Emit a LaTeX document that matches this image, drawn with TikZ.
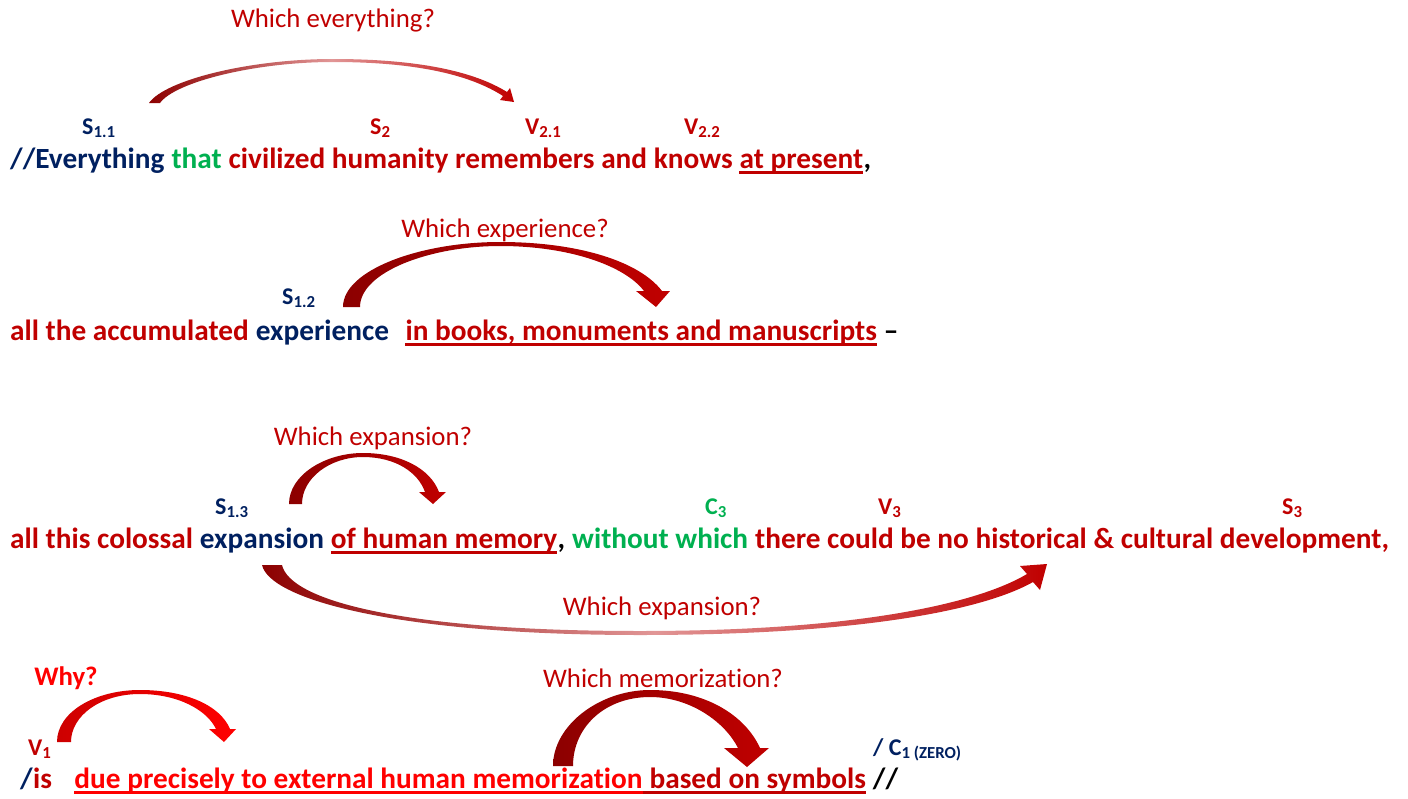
\documentclass[tikz,border=0pt]{standalone}
\usepackage{fontspec}
\setmainfont{Carlito}[Ligatures=NoCommon]
\usetikzlibrary{positioning}
\definecolor{synnavy}{RGB}{0,32,96}
\definecolor{synred}{RGB}{192,0,0}
\definecolor{syngreen}{RGB}{0,176,80}
\definecolor{synbright}{RGB}{255,0,0}
\definecolor{synmaroon}{RGB}{140,0,0}
\definecolor{synpale}{RGB}{225,150,150}
\definecolor{synwhy}{RGB}{205,0,0}

\begin{document}
\begin{tikzpicture}[
      x=1pt, y=1pt,
      node distance=6.6pt,
      bow/.style={left color=synmaroon, right color=synred},
      fadebow/.style={bow, middle color=synpale},
      txt/.style={inner sep=0pt, font=\fontsize{29.3}{34}\selectfont\bfseries},
      tag/.style={inner sep=0pt, anchor=base west, font=\fontsize{24}{28}\selectfont\bfseries},
      ask/.style={inner sep=0pt, synred, font=\fontsize{26.8}{31}\selectfont},
      ul/.style={line width=2.6pt}
    ]
    \useasboundingbox (0,0) rectangle (1408,-798);

    % Sentence 1
    \node (everything) [txt, synnavy, anchor=base west] at (10,-168) {//Everything};
    \node (that)       [txt, syngreen, base right=of everything] {that};
    \node (civilized)  [txt, synred, base right=of that]         {civilized humanity remembers and knows};
    \node (present)    [txt, synred, base right=of civilized]    {at present};
    \node (comma1)     [txt, base right=0pt of present]          {,};
    \draw[ul, synred] ([yshift=-4.5pt]present.base west) -- ([yshift=-4.5pt]present.base east);

    \node (s11) [tag, synnavy] at (82,-134)  {S\textsubscript{1.1}};
    \node (s2)  [tag, synred]  at (370,-134) {S\textsubscript{2}};
    \node (v21) [tag, synred]  at (525,-134) {V\textsubscript{2.1}};
    \node (v22) [tag, synred]  at (684,-134) {V\textsubscript{2.2}};

    \node (q1) [ask] at (333,-20) {Which everything?};
    \coordinate (a1s) at (149,-103);
    \coordinate (a1e) at (514,-102);
    \shade[fadebow] (a1s) .. controls (165,-80) and (250,-59) .. (333,-59)
      .. controls (420,-59) and (475,-72) .. (507,-92) -- (510,-88) -- (a1e) -- (500,-100) -- (503,-96)
      .. controls (472,-76) and (420,-62) .. (333,-62) .. controls (255,-62) and (175,-82) .. (160,-103) -- cycle;

    % Sentence 2
    \node (accumulated) [txt, synred, anchor=base west] at (10,-340) {all the accumulated};
    \node (experience)  [txt, synnavy, base right=of accumulated]   {experience};
    \node (books)       [txt, synred, base right=16pt of experience] {in books, monuments and manuscripts};
    \node (dash2)       [txt, base right=of books]                   {–};
    \draw[ul, synred] ([yshift=-4.5pt]books.base west) -- ([yshift=-4.5pt]books.base east);

    \node (s12) [tag, synnavy] at (282,-304) {S\textsubscript{1.2}};

    \node (q2) [ask] at (505,-230) {Which experience?};
    \coordinate (a2s) at (343,-307);
    \coordinate (a2e) at (656,-307);
    \shade[bow] (a2s) .. controls (343,-270) and (420,-242) .. (500,-242)
      .. controls (580,-242) and (640,-262) .. (662,-291) -- (670,-291) -- (a2e) -- (636,-291) -- (644,-291)
      .. controls (625,-266) and (570,-246) .. (500,-246) .. controls (430,-246) and (360,-272) .. (360,-307) -- cycle;

    % Sentence 3
    \node (colossal)    [txt, synred, anchor=base west] at (10,-548) {all this colossal};
    \node (expansion)   [txt, synnavy, base right=of colossal]  {expansion};
    \node (memory)      [txt, synred, base right=of expansion]  {of human memory};
    \node (comma3)      [txt, base right=0pt of memory]         {,};
    \node (without)     [txt, syngreen, base right=of comma3]   {without which};
    \node (development) [txt, synred, base right=of without]    {there could be no historical \& cultural development,};
    \draw[ul, synred] ([yshift=-4.5pt]memory.base west) -- ([yshift=-4.5pt]memory.base east);

    \node (s13) [tag, synnavy]  at (215,-514)  {S\textsubscript{1.3}};
    \node (c3)  [tag, syngreen] at (705,-514)  {C\textsubscript{3}};
    \node (v3)  [tag, synred]   at (878,-514)  {V\textsubscript{3}};
    \node (s3)  [tag, synred]   at (1282,-514) {S\textsubscript{3}};

    \node (q3) [ask] at (373,-438) {Which expansion?};
    \coordinate (a3s) at (289,-504);
    \coordinate (a3e) at (433,-504);
    \shade[bow] (a3s) .. controls (289,-475) and (325,-453) .. (363,-453)
      .. controls (400,-453) and (430,-468) .. (439,-492) -- (446,-492) -- (a3e) -- (419,-492) -- (425,-492)
      .. controls (418,-472) and (395,-457) .. (363,-457) .. controls (330,-457) and (302,-478) .. (302,-504) -- cycle;

    \node (q4) [ask] at (662,-608) {Which expansion?};
    \coordinate (a4s) at (262,-565);
    \coordinate (a4e) at (1047,-564);
    \shade[fadebow] (a4s) .. controls (270,-600) and (400,-635) .. (640,-635)
      .. controls (850,-635) and (980,-612) .. (1033,-582) -- (1040,-590) -- (a4e) -- (1020,-566) -- (1027,-574)
      .. controls (975,-605) and (850,-631) .. (640,-631) .. controls (400,-631) and (290,-600) .. (282,-565) -- cycle;

    % Sentence 4
    \node (slash4)  [txt, synnavy, anchor=base west] at (20,-788) {/};
    \node (is)      [txt, synred, base right=0pt of slash4]  {is};
    \node (due)     [txt, synbright, base right=22pt of is]  {due precisely to external human memorization};
    \node (symbols) [txt, synred, base right=of due]         {based on symbols};
    \node (end4)    [txt, base right=of symbols]             {//};
    \draw[ul, synbright] ([yshift=-4.5pt]due.base west) -- ([yshift=-4.5pt]due.base east);
    \draw[ul, synred] ([yshift=-4.5pt]due.base east) -- ([yshift=-4.5pt]symbols.base east);

    \node (v1)   [tag, synred]  at (28,-755)  {V\textsubscript{1}};
    \node (c1)   [tag, synnavy] at (873,-755) {/ C\textsubscript{1 (ZERO)}};

    \node (why) [ask, synbright, font=\fontsize{26.8}{31}\selectfont\bfseries] at (66,-678) {Why?};
    \coordinate (a5s) at (57,-742);
    \coordinate (a5e) at (224,-742);
    \shade[left color=synwhy, right color=synbright] (a5s) .. controls (57,-712) and (95,-690) .. (140,-690)
      .. controls (185,-690) and (220,-705) .. (230,-729) -- (236,-729) -- (a5e) -- (209,-729) -- (216,-729)
      .. controls (207,-710) and (178,-694) .. (140,-694) .. controls (100,-694) and (71,-716) .. (71,-742) -- cycle;

    \node (q5) [ask] at (663,-678) {Which memorization?};
    \coordinate (a6s) at (553,-766);
    \coordinate (a6e) at (747,-767);
    \shade[bow] (a6s) .. controls (553,-725) and (600,-690) .. (650,-690)
      .. controls (705,-690) and (745,-715) .. (760,-748) -- (769,-748) -- (a6e) -- (724,-748) -- (738,-748)
      .. controls (725,-722) and (690,-697) .. (650,-697) .. controls (605,-697) and (573,-727) .. (573,-766) -- cycle;
  \end{tikzpicture}
\end{document}
